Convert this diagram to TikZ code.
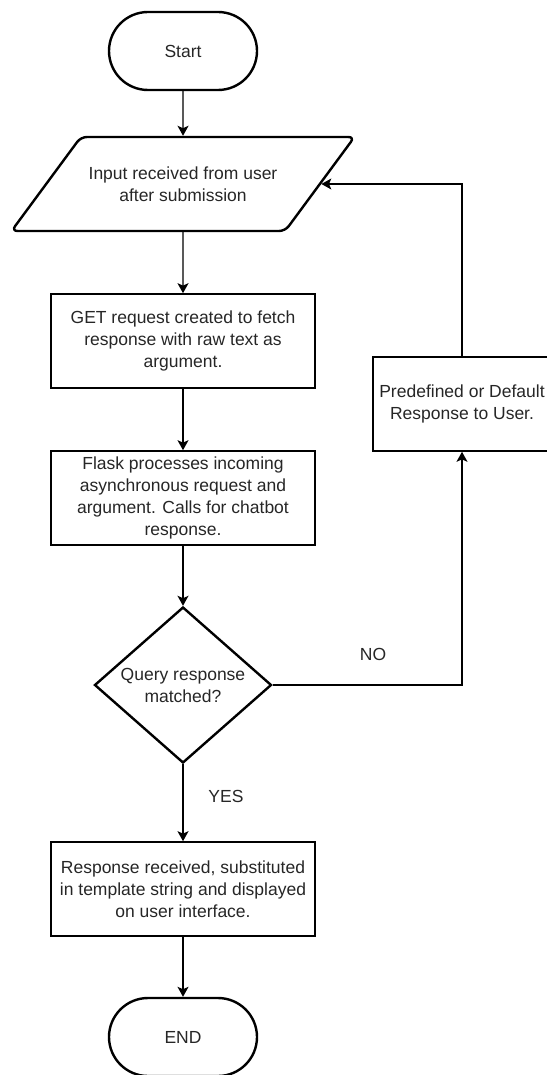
\documentclass[tikz,border=0pt]{standalone}
\usepackage{fontspec}
\setmainfont{Liberation Sans}
\usetikzlibrary{shapes.geometric,shapes.misc,arrows.meta}

\begin{document}
\begin{tikzpicture}[x=0.5pt, y=-0.5pt,
        font=\fontsize{8.75}{11}\selectfont, text=black!85,
        >={Stealth[length=5pt,width=5.5pt,inset=1.2pt]},
        term/.style={rounded rectangle, draw, line width=1.2pt, minimum width=74pt, minimum height=39pt, inner sep=0pt},
        io/.style={trapezium, trapezium left angle=51.4, trapezium right angle=128.6, trapezium stretches body,
            draw, line width=1.2pt, rounded corners=3pt, minimum width=171.5pt, minimum height=47pt,
            inner xsep=0pt, inner ysep=13pt, align=center},
        proc/.style={rectangle, draw, line width=0.8pt, minimum width=132pt, minimum height=47pt, inner sep=0pt, align=center},
        cond/.style={diamond, aspect=1.13, draw, line width=1.2pt, minimum width=88.5pt, minimum height=78pt, inner sep=0pt, align=center},
        flow/.style={->, line width=0.65pt}]
    \useasboundingbox (0,0) rectangle (546,1075);

    % main column
    \node[term] (start) at (183,51) {Start};
    \node[io] (input) at (183,184) {Input received from user\\after submission};
    \node[proc] (get) at (183,341) {GET request created to fetch\\response with raw text as\\argument.};
    \node[proc] (flask) at (183,498) {Flask processes incoming\\asynchronous request and\\argument. Calls for chatbot\\response.};
    \node[cond] (query) at (183,685) {Query response\\matched?};
    \node[proc] (resp) at (183,889) {Response received, substituted\\in template string and displayed\\on user interface.};
    \node[term] (end) at (183,1037) {END};

    % fallback branch on the right, its right side runs off the page
    \node[proc, minimum width=89pt] (predef) at (462,404) {Predefined or Default\\Response to User.};

    \draw[flow] (start) -- (input);
    \draw[flow] (input) -- (get);
    \draw[flow] (get) -- (flask);
    \draw[flow] (flask) -- (query);
    \draw[flow] (query) -- (resp);
    \draw[flow] (resp) -- (end);
    \draw[flow] (query.east) -| (predef.south);
    \draw[flow] (predef.north) |- (input);% back to the input

    \node (no) at (373,654) {NO};
    \node (yes) at (226,796) {YES};
\end{tikzpicture}
\end{document}
